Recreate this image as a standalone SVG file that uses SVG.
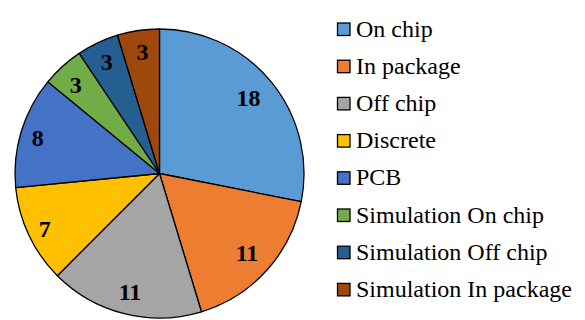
<svg xmlns="http://www.w3.org/2000/svg" width="585" height="320" viewBox="0 0 585 320">
<style>
.s{stroke:#000;stroke-width:1.3;stroke-linejoin:round}
.v{font-family:'Liberation Serif','DejaVu Serif',serif;font-weight:bold;font-size:24px;fill:#000;text-anchor:middle}
.l{font-family:'Liberation Serif','DejaVu Serif',serif;font-size:24px;fill:#000}
.k{stroke:#000;stroke-width:1.3}
</style>
<rect width="585" height="320" fill="#fff"/>
<g id="pie">
<g id="slice-on-chip"><path class="s" fill="#5B9BD5" d="M159.5,173.5 L159.5,29 A144.5,144.5 0 0 1 301.22,201.69 Z"/><text class="v" x="248.5" y="105.5">18</text></g>
<g id="slice-in-package"><path class="s" fill="#ED7D31" d="M159.5,173.5 L301.22,201.69 A144.5,144.5 0 0 1 201.45,311.78 Z"/><text class="v" x="247" y="261">11</text></g>
<g id="slice-off-chip"><path class="s" fill="#A5A5A5" d="M159.5,173.5 L201.45,311.78 A144.5,144.5 0 0 1 57.32,275.68 Z"/><text class="v" x="130" y="300">11</text></g>
<g id="slice-discrete"><path class="s" fill="#FFC000" d="M159.5,173.5 L57.32,275.68 A144.5,144.5 0 0 1 15.70,187.66 Z"/><text class="v" x="44.7" y="236.5">7</text></g>
<g id="slice-pcb"><path class="s" fill="#4472C4" d="M159.5,173.5 L15.70,187.66 A144.5,144.5 0 0 1 47.80,81.83 Z"/><text class="v" x="37.8" y="146">8</text></g>
<g id="slice-sim-on-chip"><path class="s" fill="#70AD47" d="M159.5,173.5 L47.80,81.83 A144.5,144.5 0 0 1 79.22,53.35 Z"/><text class="v" x="75.8" y="92.5">3</text></g>
<g id="slice-sim-off-chip"><path class="s" fill="#255E91" d="M159.5,173.5 L79.22,53.35 A144.5,144.5 0 0 1 117.55,35.22 Z"/><text class="v" x="106.8" y="70">3</text></g>
<g id="slice-sim-in-package"><path class="s" fill="#9E480E" d="M159.5,173.5 L117.55,35.22 A144.5,144.5 0 0 1 159.5,29 Z"/><text class="v" x="142.5" y="60">3</text></g>
</g>
<g id="legend">
<g id="leg-on-chip"><rect class="k" x="337.5" y="23" width="12.5" height="12.5" fill="#5B9BD5"/><text class="l" x="356" y="36.5">On chip</text></g>
<g id="leg-in-package"><rect class="k" x="337.5" y="60.2" width="12.5" height="12.5" fill="#ED7D31"/><text class="l" x="356" y="73.7">In package</text></g>
<g id="leg-off-chip"><rect class="k" x="337.5" y="97.4" width="12.5" height="12.5" fill="#A5A5A5"/><text class="l" x="356" y="110.9">Off chip</text></g>
<g id="leg-discrete"><rect class="k" x="337.5" y="134.6" width="12.5" height="12.5" fill="#FFC000"/><text class="l" x="356" y="148.1">Discrete</text></g>
<g id="leg-pcb"><rect class="k" x="337.5" y="171.8" width="12.5" height="12.5" fill="#4472C4"/><text class="l" x="356" y="185.3">PCB</text></g>
<g id="leg-sim-on-chip"><rect class="k" x="337.5" y="209" width="12.5" height="12.5" fill="#70AD47"/><text class="l" x="356" y="222.5">Simulation On chip</text></g>
<g id="leg-sim-off-chip"><rect class="k" x="337.5" y="246.2" width="12.5" height="12.5" fill="#255E91"/><text class="l" x="356" y="259.7">Simulation Off chip</text></g>
<g id="leg-sim-in-package"><rect class="k" x="337.5" y="283.4" width="12.5" height="12.5" fill="#9E480E"/><text class="l" x="356" y="296.9">Simulation In package</text></g>
</g>
</svg>
